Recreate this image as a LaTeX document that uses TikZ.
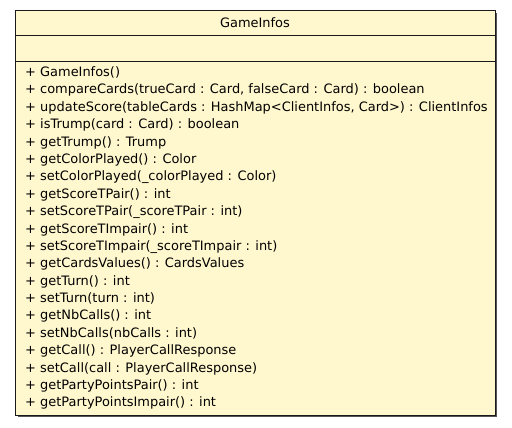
\documentclass[tikz,border=0pt]{standalone}
\usepackage{fontspec}
\setmainfont{DejaVu Sans}
\usetikzlibrary{positioning}
\definecolor{umlfill}{HTML}{FFF7CD}
\definecolor{umlshade}{HTML}{555555}
\definecolor{umlline}{HTML}{1A1A1A}
\tikzset{classbox/.style={draw=umlline,fill=umlfill,line width=1bp}, divider/.style={draw=umlline,line width=1bp}, classname/.style={font=\fontsize{13}{15}\selectfont,inner sep=0pt}, members/.style={font=\fontsize{13}{17.45}\selectfont,align=left,inner sep=0pt,anchor=north west}}

\begin{document}
\begin{tikzpicture}[x=1bp,y=-1bp]
\useasboundingbox (0,0) rectangle (512,427);
\fill[umlshade] (17.5,12.5) rectangle (497,417);
\draw[classbox] (15,10) rectangle (495,415);
\draw[divider] (15,35) -- (495,35);
\draw[divider] (15,61) -- (495,61);
\node[classname] (title) at (255,23) {GameInfos};
\node[members] (ops) at (25,66.5) {%
+ GameInfos()\\
+ compareCards(trueCard : Card, falseCard : Card) : boolean\\
+ updateScore(tableCards : HashMap<ClientInfos, Card>) : ClientInfos\\
+ isTrump(card : Card) : boolean\\
+ getTrump() : Trump\\
+ getColorPlayed() : Color\\
+ setColorPlayed(\_colorPlayed : Color)\\
+ getScoreTPair() : int\\
+ setScoreTPair(\_scoreTPair : int)\\
+ getScoreTImpair() : int\\
+ setScoreTImpair(\_scoreTImpair : int)\\
+ getCardsValues() : CardsValues\\
+ getTurn() : int\\
+ setTurn(turn : int)\\
+ getNbCalls() : int\\
+ setNbCalls(nbCalls : int)\\
+ getCall() : PlayerCallResponse\\
+ setCall(call : PlayerCallResponse)\\
+ getPartyPointsPair() : int\\
+ getPartyPointsImpair() : int};
\end{tikzpicture}
\end{document}
